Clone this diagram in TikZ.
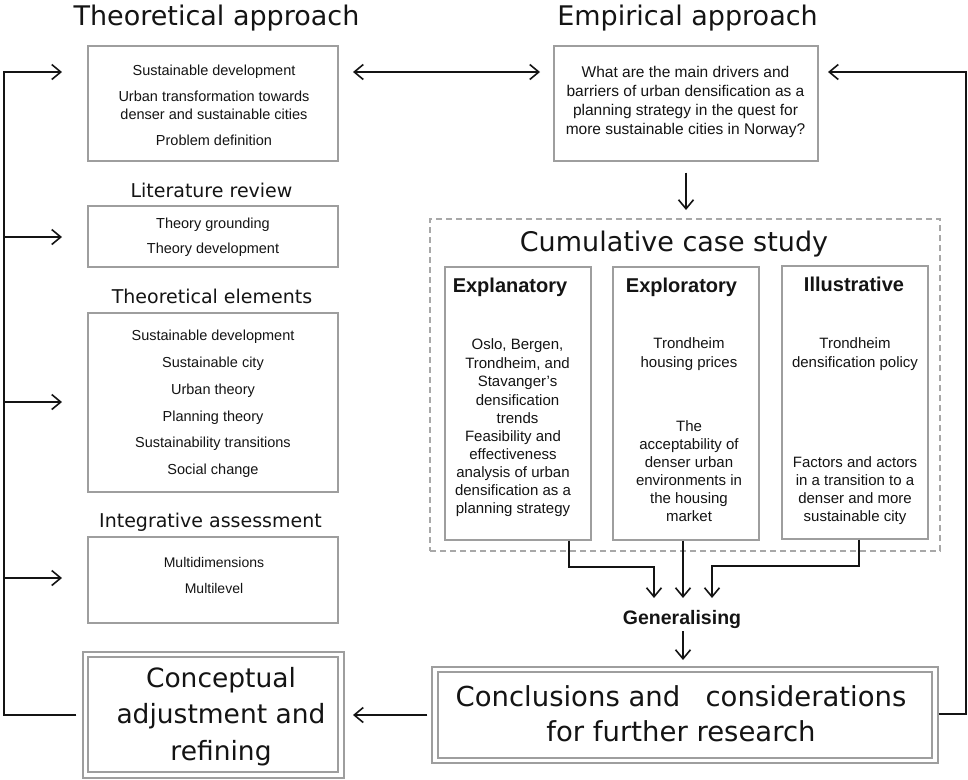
\documentclass[tikz,border=0pt]{standalone}
\usepackage{fontspec}
\setmainfont{Liberation Sans}
\newfontfamily\bigfont{DejaVu Sans}
\usetikzlibrary{arrows.meta}
\definecolor{boxgray}{RGB}{158,158,158}
\definecolor{dashgray}{RGB}{168,168,168}
\definecolor{ink}{RGB}{20,20,20}
\begin{document}
\begin{tikzpicture}[x=1pt,y=-1pt,
  >={Straight Barb[length=9pt,width=15pt]},
  frame/.style={draw=boxgray,line width=1.1pt,inner sep=0pt},
  dashframe/.style={draw=dashgray,line width=1.1pt,inner sep=0pt,dash pattern=on 6pt off 4pt},
  conn/.style={draw=ink,line width=1.6pt},
  lbl/.style={inner sep=0pt,text=ink,align=center},
  big/.style={lbl,font=\bigfont\fontsize{27}{32}\selectfont},
  sect/.style={lbl,font=\bigfont\fontsize{19}{23}\selectfont},
  sm/.style={lbl,font=\fontsize{14.5}{18}\selectfont},
  colt/.style={lbl,font=\bfseries\fontsize{20}{24}\selectfont},
  ctxt/.style={lbl,font=\fontsize{15}{18.5}\selectfont}
]
\fill[white] (0,0) rectangle (968,779);
\path[use as bounding box] (0,0) rectangle (968,779);

% ---------- boxes ----------
\node[frame,minimum width=250pt,minimum height=115pt] (tbox) at (213,103.5) {};
\node[frame,minimum width=264pt,minimum height=115pt] (ebox) at (686,103.5) {};
\node[frame,minimum width=250pt,minimum height=61pt] (lbox) at (213,236.5) {};
\node[frame,minimum width=250pt,minimum height=179pt] (elbox) at (213,402.5) {};
\node[frame,minimum width=250pt,minimum height=86pt] (ibox) at (213,580) {};
\node[dashframe,minimum width=510pt,minimum height=332pt] (dash) at (685,385) {};
\node[frame,minimum width=146pt,minimum height=273pt] (col1) at (518,403.5) {};
\node[frame,minimum width=146pt,minimum height=273pt] (col2) at (686,403.5) {};
\node[frame,minimum width=146pt,minimum height=273pt] (col3) at (855,402.5) {};
\node[frame,minimum width=506pt,minimum height=96pt] (concO) at (685,715) {};
\node[frame,minimum width=494pt,minimum height=86pt] (concI) at (685,715) {};
\node[frame,minimum width=261pt,minimum height=126pt] (cptO) at (213.5,715) {};
\node[frame,minimum width=250pt,minimum height=115pt] (cptI) at (213,714.5) {};

% ---------- titles ----------
\node[big,anchor=base] (ttl1) at (216.5,25) {Theoretical approach};
\node[big,anchor=base] (ttl2) at (687.5,25) {Empirical approach};
\node[sect,anchor=base] (s1) at (211.5,197) {Literature review};
\node[sect,anchor=base] (s2) at (212,303) {Theoretical elements};
\node[sect,anchor=base] (s3) at (210.5,527) {Integrative assessment};
\node[big,anchor=base] (cum) at (674,251) {Cumulative case study};

% ---------- box texts ----------
\node[sm] (ttxt) at (214,105.5) {Sustainable development\\[8pt]Urban transformation towards\\denser and sustainable cities\\[8pt]Problem definition};
\node[lbl,font=\fontsize{15.5}{18.7}\selectfont] (etxt) at (685.5,102) {What are the main drivers and\\barriers of urban densification as a\\planning strategy in the quest for\\more sustainable cities in Norway?};
\node[sm] (ltxt) at (213,237.5) {Theory grounding\\[7pt]Theory development};
\node[sm] (eltxt) at (213,404) {Sustainable development\\[8.8pt]Sustainable city\\[8.8pt]Urban theory\\[8.8pt]Planning theory\\[8.8pt]Sustainability transitions\\[8.8pt]Social change};
\node[lbl,font=\fontsize{14}{18}\selectfont] (itxt) at (214,575) {Multidimensions\\[8pt]Multilevel};

% ---------- case columns ----------
\node[colt,anchor=base] (h1) at (510,292) {Explanatory};
\node[colt,anchor=base] (h2) at (681.5,292) {Exploratory};
\node[colt,anchor=base] (h3) at (854,291) {Illustrative};
\node[lbl,font=\fontsize{15}{18.5}\selectfont] (c1a) at (517.5,381.5) {Oslo, Bergen,\\Trondheim, and\\Stavanger’s\\densification\\trends};
\node[lbl,font=\fontsize{15}{18}\selectfont] (c1b) at (513,473.5) {Feasibility and\\effectiveness\\analysis of urban\\densification as a\\planning strategy};
\node[ctxt] (c2a) at (689,354) {Trondheim\\housing prices};
\node[lbl,font=\fontsize{15}{18}\selectfont] (c2b) at (689,471) {The\\acceptability of\\denser urban\\environments in\\the housing\\market};
\node[ctxt] (c3a) at (855,354) {Trondheim\\densification policy};
\node[lbl,font=\fontsize{15}{18}\selectfont] (c3b) at (855,491) {Factors and actors\\in a transition to a\\denser and more\\sustainable city};

\node[lbl,font=\bfseries\fontsize{19.5}{23}\selectfont,anchor=base] (gen) at (682,624) {Generalising};

\node[lbl,font=\bigfont\fontsize{27.5}{35}\selectfont] (conctxt) at (681,714) {Conclusions and\hspace{0.6em} considerations\\for further research};
\node[lbl,font=\bigfont\fontsize{26.5}{36.5}\selectfont] (cpttxt) at (221,716.5) {Conceptual\\adjustment and\\refining};

% ---------- connector points ----------
\coordinate (lt) at (4,72);
\coordinate (lb) at (4,715);
\coordinate (a1) at (62,72);
\coordinate (a2) at (62,237);
\coordinate (a3) at (62,402);
\coordinate (a4) at (62,578);
\coordinate (rt) at (966,72);
\coordinate (rb) at (966,714);
\coordinate (a5) at (828,72);
\coordinate (a6) at (353,72);
\coordinate (a7) at (540,72);
\coordinate (a8) at (353,715);
\coordinate (a9) at (686,210);
\coordinate (k1) at (569,567);
\coordinate (g1) at (654,598);
\coordinate (g2) at (683,598);
\coordinate (k3) at (859,566);
\coordinate (g3) at (712,598);
\coordinate (a10) at (683,660);

% ---------- connectors ----------
\draw[conn,->] ([xshift=-6pt]cptO.west) -- (lb) -- (lt) -- (a1);
\draw[conn,->] (lt |- a2) -- (a2);
\draw[conn,->] (lt |- a3) -- (a3);
\draw[conn,->] (lt |- a4) -- (a4);
\draw[conn,->] (concO.east |- rb) -- (rb) -- (rt) -- (a5);
\draw[conn,<->] (a6) -- (a7);
\draw[conn,->,shorten <=4pt] (concO.west) -- (a8);
\draw[conn,->,shorten <=11pt] (ebox.south -| a9) -- (a9);
\draw[conn,->] (col1.south -| k1) -- (k1) -| (g1);
\draw[conn,->] (col2.south -| g2) -- (g2);
\draw[conn,->] (col3.south -| k3) -- (k3) -| (g3);
\draw[conn,->,shorten <=3pt] (gen.south -| a10) -- (a10);
\end{tikzpicture}
\end{document}
